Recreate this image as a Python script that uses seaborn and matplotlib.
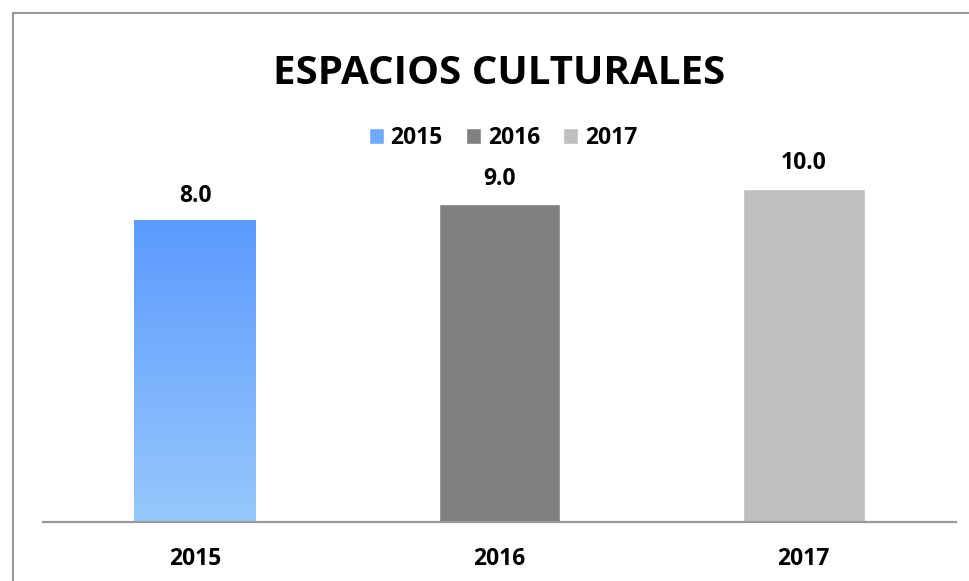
import numpy as np
import pandas as pd
import seaborn as sns
import matplotlib.pyplot as plt
from matplotlib.lines import Line2D
from matplotlib.colors import LinearSegmentedColormap

# Data
years = ['2015', '2016', '2017']
espacios = [8.0, 9.0, 10.0]
colores = ['#6FAAFD', '#808080', '#BFBFBF']

title = 'ESPACIOS CULTURALES'


def main():
    df = pd.DataFrame({'year': years, 'espacios': espacios})

    sns.set_style('white')
    plt.rcParams['font.family'] = ['Open Sans', 'DejaVu Sans']
    plt.rcParams['text.color'] = 'black'
    plt.rcParams['xtick.color'] = 'black'

    fig = plt.figure(figsize=(9.7, 5.81), dpi=100)
    ax = fig.add_axes([43 / 970, 59 / 581, 913 / 970, 362 / 581])

    sns.barplot(data=df, x='year', y='espacios', hue='year',
                palette=colores, width=0.40, dodge=False,
                legend=True, ax=ax, saturation=1)

    # Excel chart uses a log axis starting at 1
    ymax = np.exp(362 / 144.8)
    ax.set_yscale('log')
    ax.set_ylim(1, ymax)
    ax.set_xlim(-0.5, 2.5)

    # gradient on the 2015 bar
    bar = ax.patches[0]
    bx0 = bar.get_x()
    bx1 = bx0 + bar.get_width()
    (x0, y0), (x1, y1) = ax.transAxes.inverted().transform(
        ax.transData.transform([[bx0, 1], [bx1, espacios[0]]]))
    cmap = LinearSegmentedColormap.from_list('azul', ['#97C8FB', '#5C9BFF'])
    grad = np.linspace(0, 1, 256).reshape(-1, 1)
    ax.imshow(grad, cmap=cmap, aspect='auto', origin='lower',
              extent=(x0, x1, y0, y1), transform=ax.transAxes,
              zorder=bar.get_zorder() + 0.1)
    ax.set_xlim(-0.5, 2.5)
    ax.set_ylim(1, ymax)

    # data labels
    for i, v in enumerate(espacios):
        ax.annotate(f'{v:.1f}', (i, v), xytext=(0, 9.5), textcoords='offset points',
                    ha='center', va='bottom', fontsize=16.5, fontweight='bold')

    ax.set_xlabel('')
    ax.set_ylabel('')
    ax.set_yticks([])
    ax.set_yticks([], minor=True)
    ax.tick_params(axis='x', length=0, pad=18, labelsize=16.5)
    for lab in ax.get_xticklabels():
        lab.set_fontweight('bold')
    for side in ['left', 'right', 'top']:
        ax.spines[side].set_visible(False)
    ax.spines['bottom'].set_color('#999999')
    ax.spines['bottom'].set_linewidth(1.6)

    ax.legend(ncol=3, loc='center', bbox_to_anchor=(503 / 970, 1 - 138 / 581),
              bbox_transform=fig.transFigure, frameon=False,
              prop={'weight': 'bold', 'size': 16.5},
              handlelength=0.66, handleheight=0.66, handletextpad=0.3,
              columnspacing=1.0)

    fig.text(499 / 970, 1 - 73 / 581, title, ha='center', va='center',
             fontsize=29, fontweight='bold', color='black')

    # chart border (only the top-left part is in the picture)
    fig.add_artist(Line2D([13 / 970, 13 / 970], [0, 1 - 13 / 581],
                          transform=fig.transFigure, color='#8C8C8C', lw=1.3))
    fig.add_artist(Line2D([13 / 970, 1], [1 - 13 / 581, 1 - 13 / 581],
                          transform=fig.transFigure, color='#8C8C8C', lw=1.3))

    fig.savefig('out.png', dpi=100, facecolor='white')


if __name__ == '__main__':
    main()
